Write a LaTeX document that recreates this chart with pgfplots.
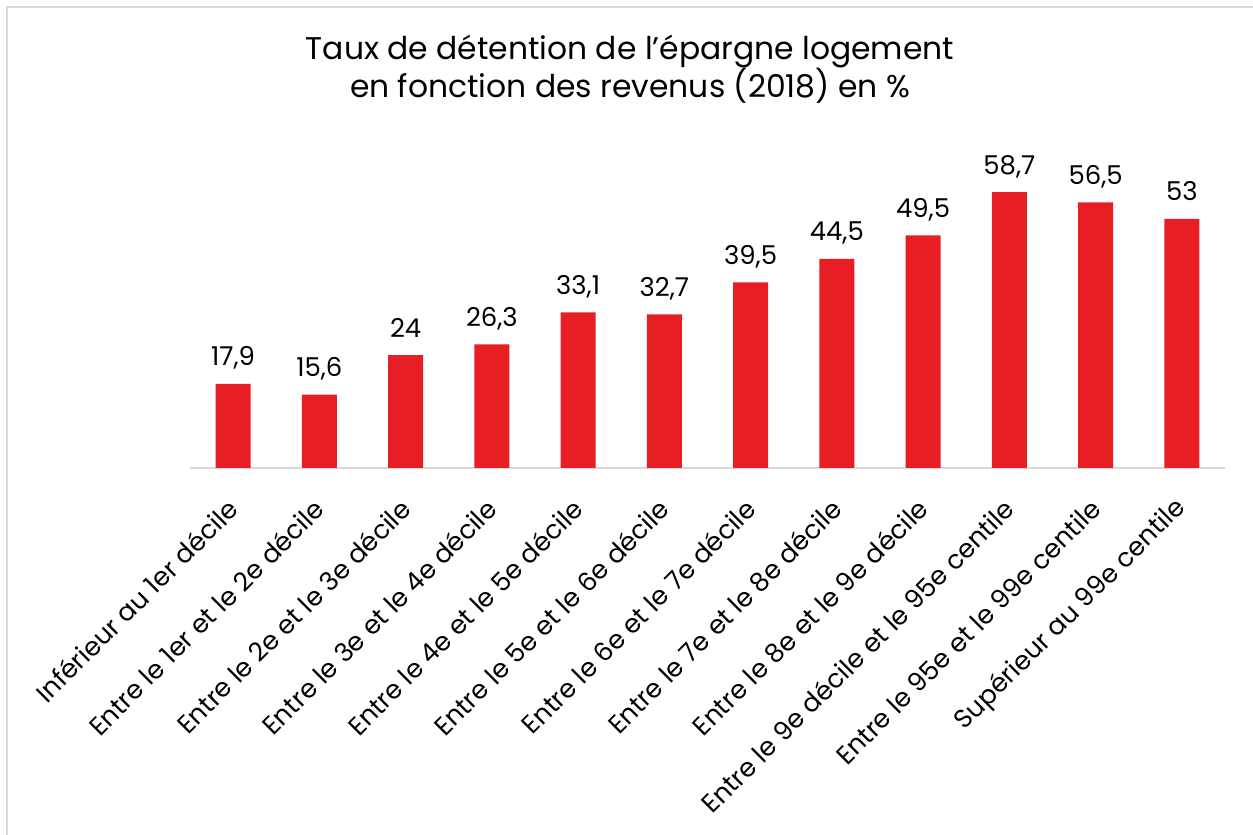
\documentclass[border=0pt]{standalone}
\usepackage{fontspec}
\setmainfont{Poppins}
\usepackage{pgfplots}
\pgfplotsset{compat=1.18}
\definecolor{barred}{RGB}{232,30,37}
\definecolor{axgray}{RGB}{217,217,217}
\begin{document}
\begin{tikzpicture}[x=1bp,y=1bp]
\useasboundingbox (0,0) rectangle (1253,835);
\draw[axgray, line width=2bp] (7,0) -- (7,828) -- (1253,828);
\node[anchor=base, inner sep=0pt, font=\fontsize{31.5}{36}\selectfont] at (630,775) {Taux de détention de l'épargne logement};
\node[anchor=base, inner sep=0pt, font=\fontsize{31.5}{36}\selectfont] at (630,737) {en fonction des revenus (2018) en \%};
\begin{axis}[
  at={(190bp,367bp)}, anchor=south west,
  width=1035bp, height=305.5bp, scale only axis,
  xmin=-0.5, xmax=11.5, ymin=0, ymax=65, enlargelimits=false,
  axis y line=none, axis x line*=bottom,
  x axis line style={axgray, line width=1.5bp, -},
  xtick=data, major tick length=0pt,
  xticklabels={Inférieur au 1er décile, Entre le 1er et le 2e décile, Entre le 2e et le 3e décile, Entre le 3e et le 4e décile, Entre le 4e et le 5e décile, Entre le 5e et le 6e décile, Entre le 6e et le 7e décile, Entre le 7e et le 8e décile, Entre le 8e et le 9e décile, Entre le 9e décile et le 95e centile, Entre le 95e et le 99e centile, Supérieur au 99e centile},
  xticklabel style={rotate=45, anchor=east, inner sep=0pt, font=\fontsize{26}{26}\selectfont},
  xticklabel shift=36bp,
  ybar, bar width=35bp,
  nodes near coords,
  nodes near coords style={anchor=base, yshift=18bp, inner sep=0pt, font=\fontsize{26}{26}\selectfont, black},
  /pgf/number format/.cd, use comma, fixed, precision=1, assume math mode=true
]
\addplot[fill=barred, draw=none] coordinates {(0,17.9) (1,15.6) (2,24) (3,26.3) (4,33.1) (5,32.7) (6,39.5) (7,44.5) (8,49.5) (9,58.7) (10,56.5) (11,53)};
\end{axis}
\end{tikzpicture}
\end{document}
